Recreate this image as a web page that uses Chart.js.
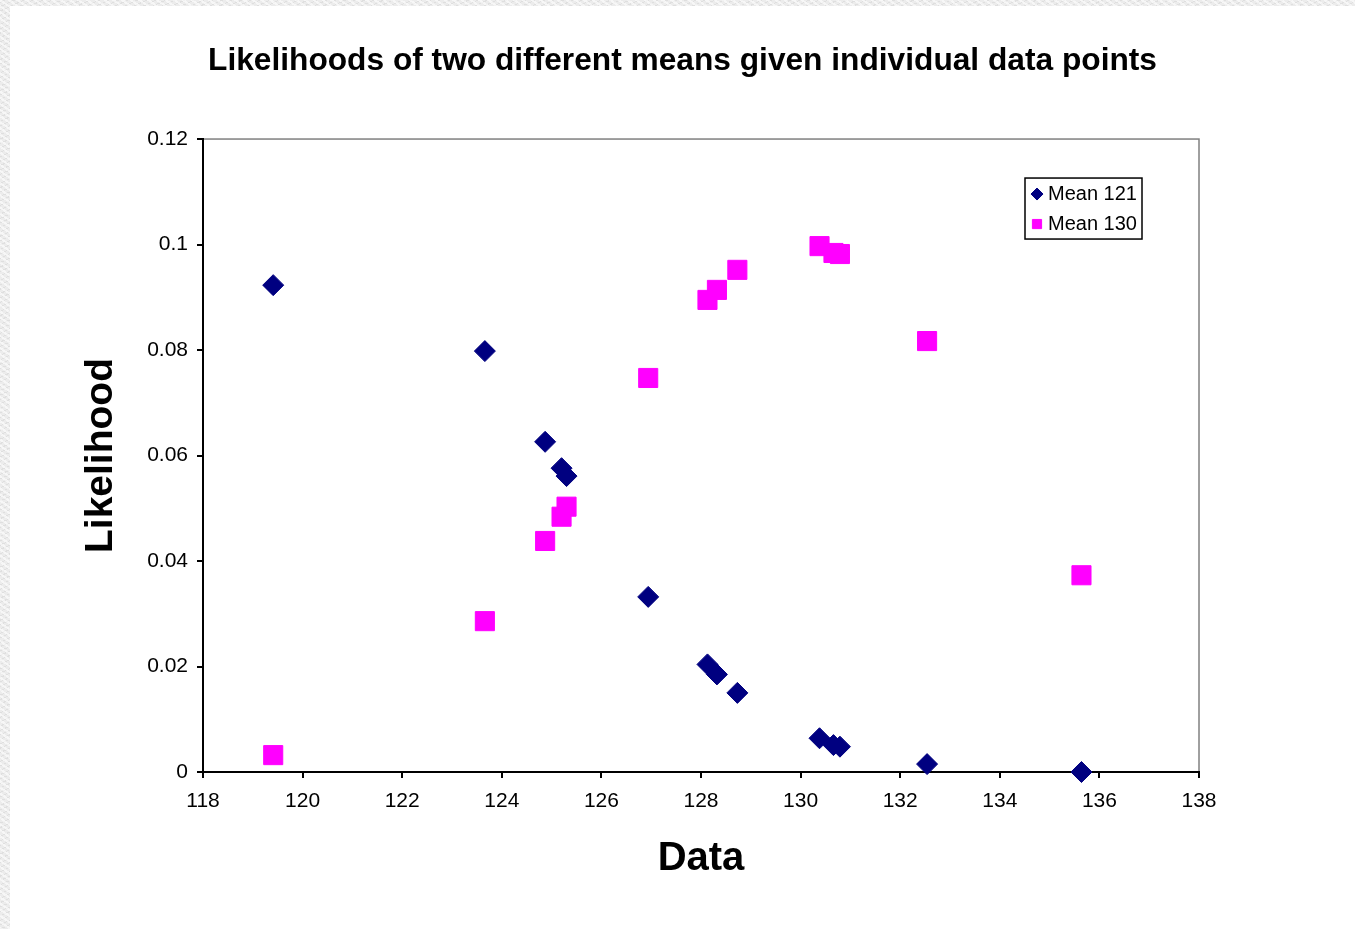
<!DOCTYPE html>
<html>
<head>
<meta charset="utf-8">
<script src="https://cdn.jsdelivr.net/npm/chart.js@4/dist/chart.umd.min.js"></script>
<style>
  html, body { margin: 0; padding: 0; }
  body {
    width: 1355px; height: 929px; overflow: hidden;
    background-color: #ececec;
    background-image:
      repeating-linear-gradient(35deg, rgba(255,255,255,0.6) 0 2px, rgba(0,0,0,0) 2px 5px),
      repeating-linear-gradient(-25deg, rgba(210,210,210,0.5) 0 1px, rgba(0,0,0,0) 1px 4px);
  }
  #wrap { position: absolute; left: 10px; top: 6px; width: 1345px; height: 923px; background: #ffffff; }
</style>
</head>
<body>
<div id="wrap"><canvas id="c"></canvas></div>
<script>
// ---- data ----
const dataPoints = [119.41, 123.66, 124.87, 125.20, 125.30, 126.94, 128.13, 128.32, 128.73, 130.38, 130.66, 130.79, 132.54, 135.64];
const likelihoodMean121 = [0.0923, 0.0798, 0.0626, 0.0576, 0.0561, 0.0332, 0.0204, 0.0185, 0.0150, 0.0064, 0.0051, 0.0048, 0.0015, 0.0000];
const likelihoodMean130 = [0.0032, 0.0286, 0.0438, 0.0484, 0.0503, 0.0747, 0.0895, 0.0914, 0.0952, 0.0997, 0.0984, 0.0982, 0.0817, 0.0373];
const seriesLabels = ['Mean 121', 'Mean 130'];
const xTickMin = 118, xTickMax = 138, xTickStep = 2;
const yTickMin = 0, yTickMax = 0.12, yTickStep = 0.02;
const chartTitle = 'Likelihoods of two different means given individual data points';
const xAxisTitle = 'Data';
const yAxisTitle = 'Likelihood';

const FONT = "'Liberation Sans', Arial, sans-serif";
Chart.defaults.font.family = FONT;
Chart.defaults.color = '#000';

const toXY = (xs, ys) => xs.map((x, i) => ({ x: x, y: ys[i] }));

const frameBorder = {
  id: 'frameBorder',
  beforeDraw(chart) {
    const a = chart.chartArea, ctx = chart.ctx;
    ctx.save();
    ctx.strokeStyle = '#808080';
    ctx.lineWidth = 1.5;
    ctx.strokeRect(a.left, a.top, a.right - a.left, a.bottom - a.top);
    ctx.restore();
  }
};

const boxLegend = {
  id: 'boxLegend',
  afterDraw(chart) {
    const a = chart.chartArea, ctx = chart.ctx;
    const bx = a.right - 174, by = a.top + 39, bw = 117, bh = 61;
    ctx.save();
    ctx.fillStyle = '#fff';
    ctx.fillRect(bx, by, bw, bh);
    ctx.strokeStyle = '#000';
    ctx.lineWidth = 1.5;
    ctx.strokeRect(bx, by, bw, bh);
    ctx.font = '20px ' + FONT;
    ctx.textBaseline = 'middle';
    ctx.textAlign = 'left';
    chart.data.datasets.forEach((ds, i) => {
      const cy = by + 16 + i * 30;
      ctx.fillStyle = ds.backgroundColor;
      ctx.strokeStyle = ds.borderColor;
      ctx.lineWidth = 1;
      Chart.helpers.drawPoint(ctx, {
        pointStyle: ds.pointStyle, rotation: 0, borderWidth: 1,
        radius: ds.pointStyle === 'rect' ? 6.5 : 6
      }, bx + 12, cy);
      ctx.fillStyle = '#000';
      ctx.fillText(ds.label, bx + 23, cy);
    });
    ctx.restore();
  }
};

new Chart(document.getElementById('c'), {
  type: 'scatter',
  data: {
    datasets: [
      {
        label: seriesLabels[0],
        data: toXY(dataPoints, likelihoodMean121),
        pointStyle: 'rectRot',
        pointRadius: 10.5,
        pointHoverRadius: 10.5,
        backgroundColor: '#000080',
        borderColor: '#000080',
        borderWidth: 1,
        clip: false
      },
      {
        label: seriesLabels[1],
        data: toXY(dataPoints, likelihoodMean130),
        pointStyle: 'rect',
        pointRadius: 13.5,
        pointHoverRadius: 13.5,
        backgroundColor: '#FF00FF',
        borderColor: '#FF00FF',
        borderWidth: 1,
        clip: false
      }
    ]
  },
  options: {
    responsive: true,
    maintainAspectRatio: false,
    animation: false,
    layout: { padding: { left: 0, right: 0, top: 0, bottom: 0 } },
    plugins: {
      legend: { display: false },
      tooltip: { enabled: false },
      title: {
        display: true,
        text: chartTitle,
        color: '#000',
        font: { size: 31.7, weight: 'bold', family: FONT },
        padding: { top: 36, bottom: 59 }
      }
    },
    scales: {
      x: {
        type: 'linear',
        min: xTickMin,
        max: xTickMax,
        ticks: { stepSize: xTickStep, font: { size: 21 }, color: '#000', padding: 11, maxRotation: 0 },
        grid: { display: true, drawOnChartArea: false, drawTicks: true, tickLength: 6, color: '#000', lineWidth: 2 },
        border: { display: true, color: '#000', width: 2 },
        title: { display: true, text: xAxisTitle, color: '#000', font: { size: 40, weight: 'bold' }, padding: { top: 0, bottom: 46 } },
        afterFit(s) { s.height = 157; }
      },
      y: {
        type: 'linear',
        position: 'left',
        min: yTickMin,
        max: yTickMax,
        ticks: {
          stepSize: yTickStep, font: { size: 21 }, color: '#000', padding: 9,
          callback: v => String(Number(v.toFixed(2)))
        },
        grid: { display: true, drawOnChartArea: false, drawTicks: true, tickLength: 6, color: '#000', lineWidth: 2 },
        border: { display: true, color: '#000', width: 2 },
        title: { display: true, text: yAxisTitle, color: '#000', font: { size: 39, weight: 'bold' }, padding: { top: 68, bottom: 0 } },
        afterFit(s) { s.width = 193; }
      },
      spacer: {
        type: 'linear',
        position: 'right',
        display: true,
        min: yTickMin,
        max: yTickMax,
        ticks: { display: false },
        grid: { display: false, drawTicks: false },
        border: { display: false },
        title: { display: false },
        afterFit(s) { s.width = 156; }
      }
    }
  },
  plugins: [frameBorder, boxLegend]
});
</script>
</body>
</html>
